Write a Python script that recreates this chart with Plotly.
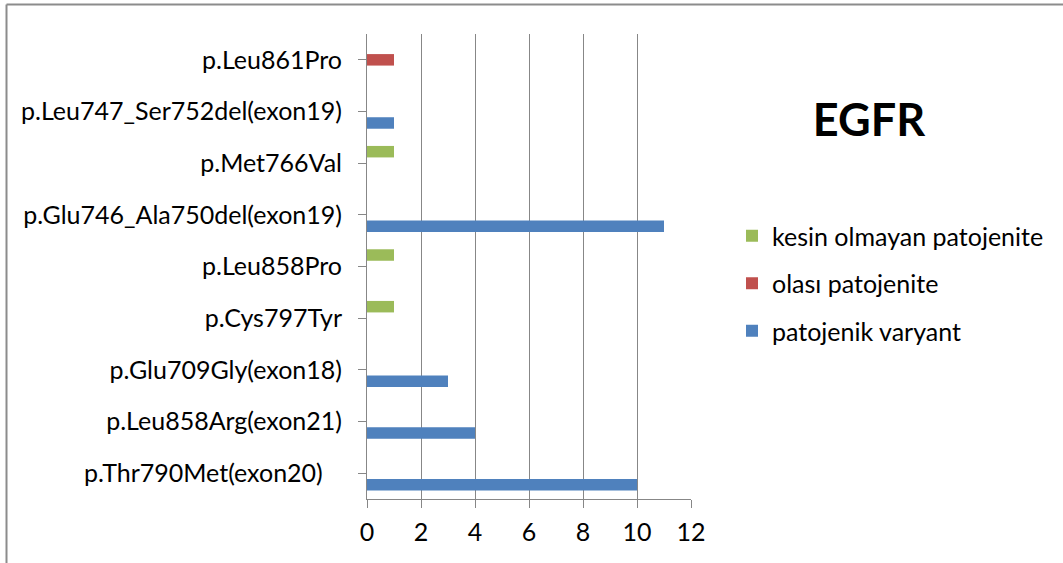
import plotly.graph_objects as go

# EGFR variants, listed bottom to top on the category axis
variants = [
    "p.Thr790Met(exon20)",
    "p.Leu858Arg(exon21)",
    "p.Glu709Gly(exon18)",
    "p.Cys797Tyr",
    "p.Leu858Pro",
    "p.Glu746_Ala750del(exon19)",
    "p.Met766Val",
    "p.Leu747_Ser752del(exon19)",
    "p.Leu861Pro",
]
# Display labels (first one carries trailing non-breaking spaces as in the source sheet)
variant_labels = [
    "p.Thr790Met(exon20)\u00a0\u00a0\u00a0",
    "p.Leu858Arg(exon21)",
    "p.Glu709Gly(exon18)",
    "p.Cys797Tyr",
    "p.Leu858Pro",
    "p.Glu746_Ala750del(exon19)",
    "p.Met766Val",
    "p.Leu747_Ser752del(exon19)",
    "p.Leu861Pro",
]

patojenik_varyant = [10, 4, 3, None, None, 11, None, 1, None]
olasi_patojenite = [None, None, None, None, None, None, None, None, 1]
kesin_olmayan_patojenite = [None, None, None, 1, 1, None, 1, None, None]

x_ticks = [0, 2, 4, 6, 8, 10, 12]

FONT = "Lato"
GRID = "#878787"

fig = go.Figure()
# (name, values, colour, legend position from the top)
series = [
    ("patojenik varyant", patojenik_varyant, "#4F81BD", 3),
    ("olası patojenite", olasi_patojenite, "#C0504D", 2),
    ("kesin olmayan patojenite", kesin_olmayan_patojenite, "#9BBB59", 1),
]
for name, vals, color, rank in series:
    fig.add_trace(go.Bar(
        y=variants, x=vals, name=name, orientation="h",
        marker=dict(color=color, line=dict(width=0)),
        legendgroup=name, legendrank=rank,
    ))

W, H = 1063, 563
L, R, T, B = 367, W - 691, 34, H - 499

fig.update_layout(
    width=W, height=H,
    margin=dict(l=L, r=R, t=T, b=B),
    paper_bgcolor="white", plot_bgcolor="white",
    barmode="group", bargap=0.333, bargroupgap=0,
    font=dict(family=FONT, size=25, color="black"),
    title=dict(
        text="<b>EGFR</b>", x=869 / W, y=1 - 120 / H,
        xanchor="center", yanchor="middle",
        font=dict(family=FONT, size=45, color="black"),
    ),
    showlegend=True,
    legend=dict(
        x=(732 - L) / (W - L - R), xanchor="left",
        y=1 - (213 - T) / (H - T - B), yanchor="top",
        traceorder="grouped", tracegroupgap=12,
        font=dict(family=FONT, size=25, color="black"),
        itemwidth=30, bgcolor="rgba(0,0,0,0)",
    ),
    xaxis=dict(
        range=[0, 12], tickvals=x_ticks, ticktext=[str(v) for v in x_ticks],
        showgrid=True, gridcolor=GRID, gridwidth=1,
        showline=True, linecolor=GRID, linewidth=1,
        ticks="outside", ticklen=8, tickcolor=GRID,
        zeroline=False, fixedrange=True,
        tickfont=dict(family=FONT, size=25, color="black"),
        ticklabelstandoff=3,
    ),
    yaxis=dict(
        categoryorder="array", categoryarray=variants,
        tickvals=variants, ticktext=variant_labels,
        showgrid=False, showline=True, linecolor=GRID, linewidth=1,
        ticks="outside", ticklen=8, tickcolor=GRID,
        showdividers=False,
        tickfont=dict(family=FONT, size=25, color="black"),
        ticklabelstandoff=11,
    ),
    shapes=[
        # chart frame: left and top edges
        dict(type="line", xref="paper", yref="paper",
             x0=(6.5 - L) / (W - L - R), x1=(6.5 - L) / (W - L - R),
             y0=1 + (T - 4.5) / (H - T - B), y1=-(B + 10) / (H - T - B),
             line=dict(color="#8C8C8C", width=2)),
        dict(type="line", xref="paper", yref="paper",
             x0=(6.5 - L) / (W - L - R), x1=(W + 10 - L) / (W - L - R),
             y0=1 + (T - 4.5) / (H - T - B), y1=1 + (T - 4.5) / (H - T - B),
             line=dict(color="#8C8C8C", width=2)),
    ],
)

fig.write_html("out.html")
